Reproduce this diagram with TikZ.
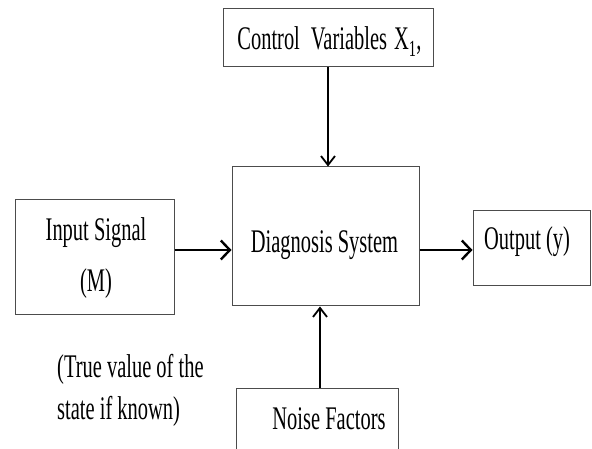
\documentclass[tikz,border=0pt]{standalone}
\usepackage{fontspec}
\setmainfont[FakeStretch=0.62]{Liberation Serif}
\usetikzlibrary{arrows.meta}
\begin{document}
\begin{tikzpicture}[x=1pt,y=1pt,
  block/.style={draw=black!70,line width=1pt,rectangle,inner sep=0pt},
  caption/.style={anchor=base,inner sep=0pt,font=\fontsize{33}{40}\selectfont},
  flow/.style={line width=2.8pt,-{Straight Barb[length=9pt,width=19pt,line width=2.4pt]}},
  feed/.style={line width=1.8pt,-{Straight Barb[length=9pt,width=14pt,line width=1.8pt]}}]
\useasboundingbox (0,0) rectangle (592,449);
\clip (0,0) rectangle (592,449);
% boxes
\node[block,minimum width=210,minimum height=58] (ctrl) at (328,411) {};
\node[block,minimum width=187,minimum height=139] (diag) at (325.5,212.5) {};
\node[block,minimum width=159,minimum height=115] (input) at (94.5,191.5) {};
\node[block,minimum width=117,minimum height=75] (out) at (531.5,200.5) {};
\node[block,minimum width=162,minimum height=71] (noise) at (317,24.5) {};
% labels
\node[caption] (ctrl-t) at (329.5,399)
  {Control\hspace{11pt}Variables\hspace{7pt}X\textsubscript{1},};
\node[caption] (diag-t) at (324.5,196) {Diagnosis System};
\node[caption] (input-t1) at (96,208) {Input Signal};
\node[caption] (input-t2) at (96,157) {(M)};
\node[caption] (out-t) at (527,199) {Output (y)};
\node[caption] (noise-t) at (329,19) {Noise Factors};
\node[caption,anchor=base west] (note1) at (57,71) {(True value of the};
\node[caption,anchor=base west] (note2) at (57,29) {state if known)};
% connectors
\draw[feed] (ctrl.south) -- (ctrl.south |- diag.north);
\draw[feed] ([xshift=3pt]noise.north) -- ([xshift=3pt]noise.north |- diag.south);
\draw[flow] ([yshift=7.5pt]input.east) -- ([yshift=7.5pt]input.east -| diag.west);
\draw[flow] ([yshift=-1.5pt]out.west -| diag.east) -- ([yshift=-1.5pt]out.west);
\end{tikzpicture}
\end{document}
